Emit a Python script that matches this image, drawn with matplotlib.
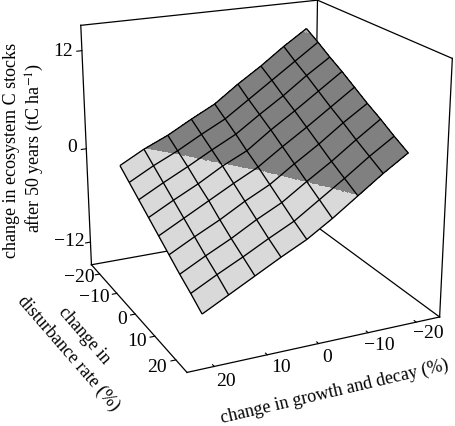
import numpy as np
import matplotlib
matplotlib.use("Agg")
import matplotlib.pyplot as plt

plt.rcParams["font.family"] = ["Liberation Serif", "DejaVu Serif"]
plt.rcParams["mathtext.fontset"] = "stix"

# values
growth = [20, 15, 10, 5, 0, -5, -10, -15, -20]
disturbance = [20, 15, 10, 5, 0, -5, -10, -15, -20]
# rows follow disturbance, columns follow growth
carbon = [
    [-10.3, -8.7, -7.1, -5.5, -4.0, -2.1, -0.0, 2.1, 4.0],
    [-9.2, -7.6, -6.1, -4.5, -3.0, -1.0, 1.0, 3.1, 5.0],
    [-8.2, -6.6, -5.1, -3.4, -1.9, 0.1, 2.0, 4.1, 6.1],
    [-7.1, -5.5, -4.0, -2.3, -0.8, 1.2, 3.1, 5.2, 7.1],
    [-6.0, -4.4, -2.8, -1.2, 0.3, 2.3, 4.2, 6.2, 8.2],
    [-4.9, -3.3, -1.8, -0.1, 1.3, 3.4, 5.3, 7.3, 9.3],
    [-3.8, -2.2, -0.7, 0.9, 2.4, 4.4, 6.3, 8.4, 10.3],
    [-2.7, -1.1, 0.3, 1.9, 3.4, 5.4, 7.4, 9.4, 11.4],
    [-1.6, 0.0, 1.3, 2.9, 4.4, 6.5, 8.4, 10.5, 12.4],
]
growth_ticks = [20, 10, 0, -10, -20]
disturbance_ticks = [-20, -10, 0, 10, 20]
carbon_ticks = [12, 0, -12]
band_edges = [0, 12]
band_colours = ["#d9d9d9", "#808080", "#b4b4b4"]

W, H = 456, 426
LO, HI = -25, 25
ZLO, ZHI = -15, 15


def minus(v):
    return str(v).replace("-", "\u2212")


def px_text(x, y, s, rotation=0, size=14):
    fig.text(x / W, 1 - y / H, s, rotation=rotation, fontsize=size, ha="center",
             va="center", rotation_mode="anchor")


def refine(v, n=24):
    # split every grid cell so the colour bands can cut through it
    v = np.asarray(v, float)
    old = np.arange(v.shape[0])
    new = np.linspace(0, v.shape[0] - 1, (v.shape[0] - 1) * n + 1)
    v = np.array([np.interp(new, old, row) for row in v])
    return np.array([np.interp(new, old, col) for col in v.T]).T


fig = plt.figure(figsize=(W / 100, H / 100), dpi=100)
# camera was fitted to the box corners in the picture
ax = fig.add_axes([27.1 / W, 25.5 / H, 449.9 / W, 449.9 / H], projection="3d",
                  computed_zorder=False)
ax.set_axis_off()
ax.patch.set_alpha(0)
ax.set_xlim(LO, HI)
ax.set_ylim(LO, HI)
ax.set_zlim(ZLO, ZHI)
ax.view_init(elev=19.7058, azim=64.7656)
ax.set_proj_type("persp", focal_length=0.5652)
ax.set_box_aspect((1, 0.9967, 0.9776))

# box edges behind the surface
back = [
    ((LO, LO), (LO, LO), (ZLO, ZHI)),
    ((HI, LO), (LO, LO), (ZLO, ZLO)),
    ((LO, LO), (LO, HI), (ZLO, ZLO)),
]
for xs, ys, zs in back:
    ax.plot(xs, ys, zs, color="black", lw=0.9, zorder=1)

X, Y = np.meshgrid(growth, disturbance)
Z = np.array(carbon)
fx, fy, fz = refine(X), refine(Y), refine(Z)
# colour of a sub-cell comes from its own corner average
mid = (fz + np.roll(fz, -1, 0) + np.roll(fz, -1, 1) + np.roll(np.roll(fz, -1, 0), -1, 1)) / 4
band = np.digitize(mid, band_edges)
faces = matplotlib.colors.to_rgba_array(band_colours)[band]
ax.plot_surface(fx, fy, fz, rstride=1, cstride=1, facecolors=faces, shade=False,
                linewidth=0, antialiased=False, zorder=2)
ax.plot_wireframe(X, Y, Z, rstride=1, cstride=1, color="black", linewidth=0.95, zorder=3)

# box edges in front
front = [
    ((HI, HI), (LO, LO), (ZLO, ZHI)),
    ((HI, LO), (LO, LO), (ZHI, ZHI)),
    ((LO, LO), (LO, HI), (ZHI, ZHI)),
    ((LO, LO), (HI, HI), (ZLO, ZHI)),
    ((HI, HI), (LO, HI), (ZLO, ZLO)),
    ((HI, LO), (HI, HI), (ZLO, ZLO)),
]
for xs, ys, zs in front:
    ax.plot(xs, ys, zs, color="black", lw=0.9, zorder=4)

# short tick marks on the three axes
for t in growth_ticks:
    ax.plot((t, t), (HI, HI - 0.7), (ZLO, ZLO), color="black", lw=0.8, zorder=4)
for t in disturbance_ticks:
    ax.plot((HI, HI + 0.9), (t, t), (ZLO, ZLO), color="black", lw=0.8, zorder=4)
for t in carbon_ticks:
    ax.plot((HI, HI + 1.0), (LO, LO), (t, t), color="black", lw=0.8, zorder=4)

carbon_pos = [(63, 51), (72, 148), (69, 242)]
disturbance_pos = [(79, 277), (94, 298), (122, 319), (137, 342), (157, 367)]
growth_pos = [(226, 382), (281, 368), (327, 357), (379, 345), (428, 333)]
for t, (px, py) in zip(carbon_ticks, carbon_pos):
    px_text(px, py, minus(t))
for t, (px, py) in zip(disturbance_ticks, disturbance_pos):
    px_text(px, py, minus(t))
for t, (px, py) in zip(growth_ticks, growth_pos):
    px_text(px, py, minus(t))

px_text(12, 150, "change in ecosystem C stocks", rotation=90, size=13)
px_text(35, 148, "after 50 years (tC ha$^{\u22121}$)", rotation=90, size=13)
px_text(84, 336, "change in", rotation=-49, size=13)
px_text(68, 353, "disturbance rate (%)", rotation=-49, size=13)
px_text(335, 392, "change in growth and decay (%)", rotation=13.3, size=13)

fig.savefig("out.png", dpi=100)
